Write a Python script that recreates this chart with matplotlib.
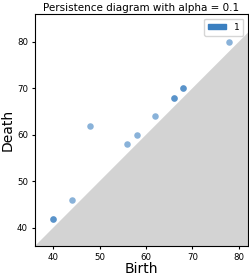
import numpy as np
import matplotlib.pyplot as plt
from matplotlib.patches import Patch

# persistence pairs (birth, death); repeated pairs show up darker
births = [40, 40, 44, 48, 56, 58, 62, 66, 66, 68, 68, 78]
deaths = [42, 42, 46, 62, 58, 60, 64, 68, 68, 70, 70, 80]
label = '1'

fig = plt.figure(figsize=(2.49, 2.75), dpi=100)
ax = fig.add_axes([35 / 249, 29 / 275, 213 / 249, 232 / 275])

xlim = (36.1, 82.0)
ylim = (36.1, 86.0)
xs = np.array([0, 100])
ax.fill_between(xs, 0, xs, color='lightgray', lw=0, zorder=0)

ax.scatter(births, deaths, s=22, color='#3a7fc0', alpha=0.6, lw=0, zorder=2)

ax.set_xlim(xlim)
ax.set_ylim(ylim)
ax.set_xticks([40, 50, 60, 70, 80])
ax.set_yticks([40, 50, 60, 70, 80])
ax.tick_params(labelsize=6.2, length=2.5, pad=2.5)
ax.set_xlabel('Birth', fontsize=10, labelpad=0)
ax.set_ylabel('Death', fontsize=10, labelpad=2)
ax.set_title('Persistence diagram with alpha = 0.1', fontsize=7.5, pad=2)

ax.legend(handles=[Patch(color='#3a7fc0', label=label)], loc='upper right',
          fontsize=6.5, handlelength=2.0, handleheight=0.5, borderpad=0.45,
          handletextpad=0.8, borderaxespad=0.5)

fig.savefig('out.png', dpi=100)
